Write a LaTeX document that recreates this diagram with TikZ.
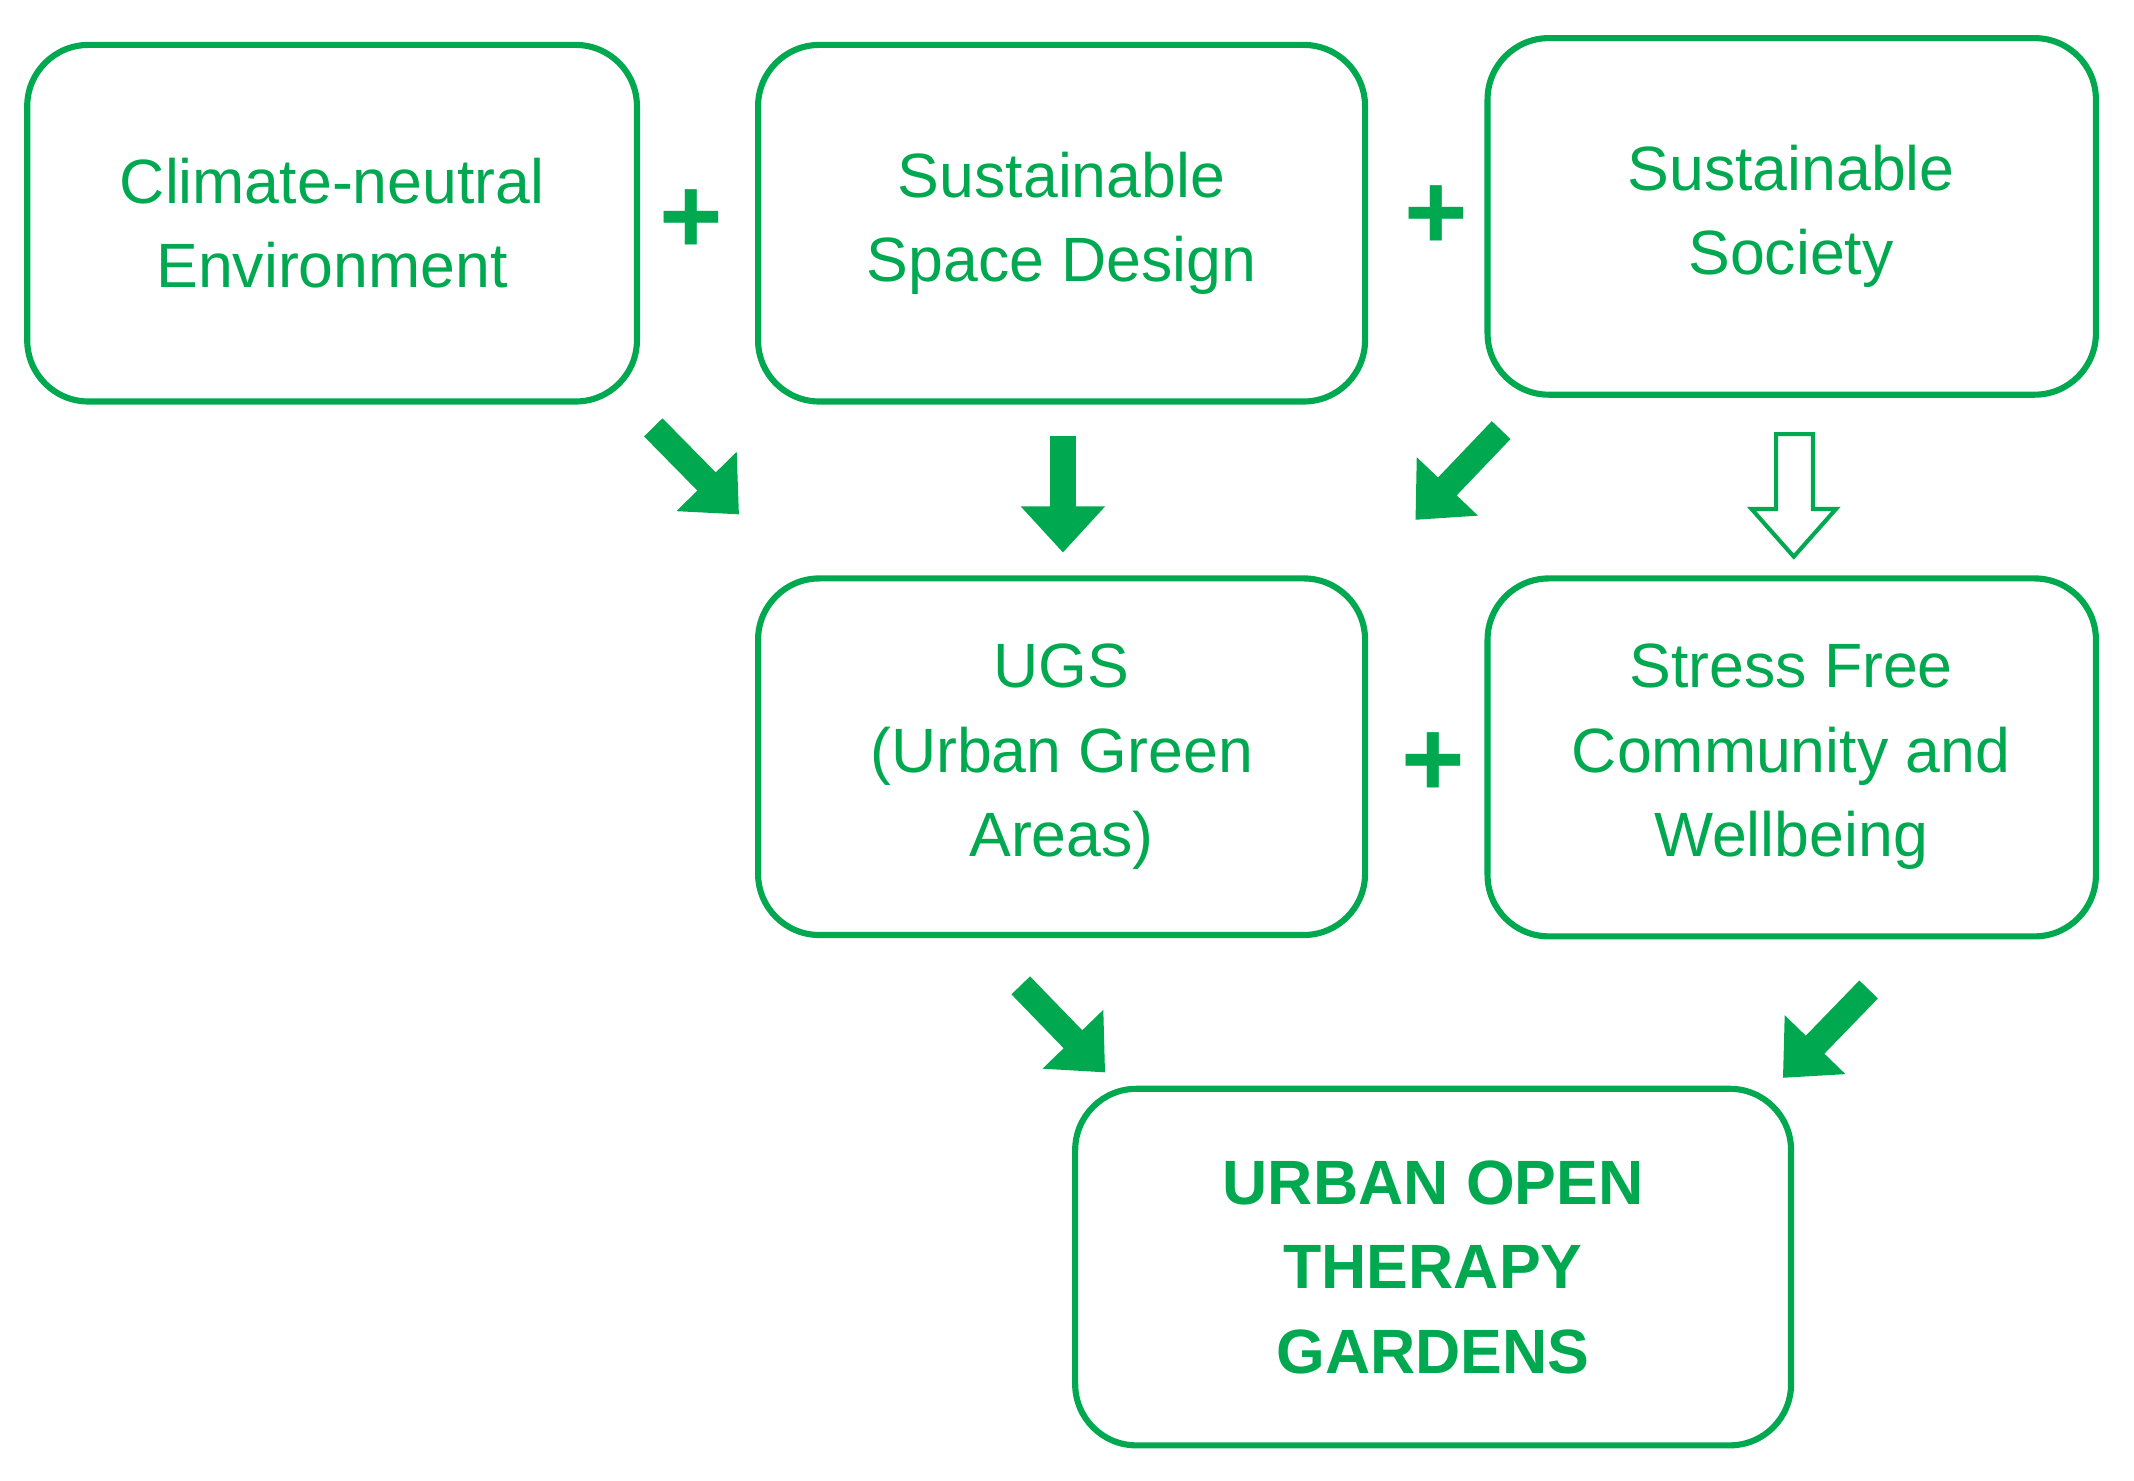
\documentclass[tikz,border=0pt]{standalone}
\usepackage{fontspec}
\setmainfont{Liberation Sans}
\usetikzlibrary{arrows.meta}
\definecolor{gr}{HTML}{00A850}
\begin{document}
\begin{tikzpicture}[x=1pt,y=-1pt,
  box/.style={draw=gr,line width=4.5pt,rounded corners=45pt},
  lbl/.style={text=gr,align=center,font=\fontsize{46}{62}\selectfont},
  blk/.style={draw=gr,line width=19pt,-{Triangle[length=34pt,width=60pt]}},
  plus/.style={text=gr,font=\fontsize{80}{80}\selectfont\bfseries}]
\useasboundingbox (0,0) rectangle (1568,1088);
\path[box] (20,33) rectangle (468,295);
\node[lbl] (a) at (244,164) {Climate-neutral\\Environment};
\path[box] (557,33) rectangle (1003,295);
\node[lbl] (b) at (780,164) {Sustainable\\Space Design};
\path[box] (1093,28) rectangle (1540,290);
\node[lbl] (c) at (1316,159) {Sustainable\\Society};
\path[box] (557,425) rectangle (1003,687);
\node[lbl] (d) at (780,556) {UGS\\(Urban Green\\Areas)};
\path[box] (1093,425) rectangle (1540,688);
\node[lbl] (e) at (1316,556) {Stress Free\\Community and\\Wellbeing};
\path[box] (790,800) rectangle (1316,1062);
\node[lbl,font=\fontsize{46}{62}\selectfont\bfseries] (f) at (1053,931) {URBAN OPEN\\THERAPY\\GARDENS};
\node[plus] (p1) at (508,163) {+};
\node[plus] (p2) at (1055,160) {+};
\node[plus] (p3) at (1053,562) {+};
\coordinate (s1) at (480,314); \coordinate (e1) at (543,378);
\coordinate (s2) at (781,320); \coordinate (e2) at (781,406);
\coordinate (s3) at (1103,316); \coordinate (e3) at (1040,382);
\coordinate (s5) at (750,724); \coordinate (e5) at (812,788);
\coordinate (s6) at (1373,727); \coordinate (e6) at (1310,792);
\draw[blk] (s1) -- (e1);
\draw[blk] (s2) -- (e2);
\draw[blk] (s3) -- (e3);
\draw[blk] (s5) -- (e5);
\draw[blk] (s6) -- (e6);
\draw[gr,line width=3pt,line join=miter] (1305,319) -- (1332,319) -- (1332,374) -- (1349,374)
  -- (1318,409) -- (1287,374) -- (1305,374) -- cycle;
\end{tikzpicture}
\end{document}
